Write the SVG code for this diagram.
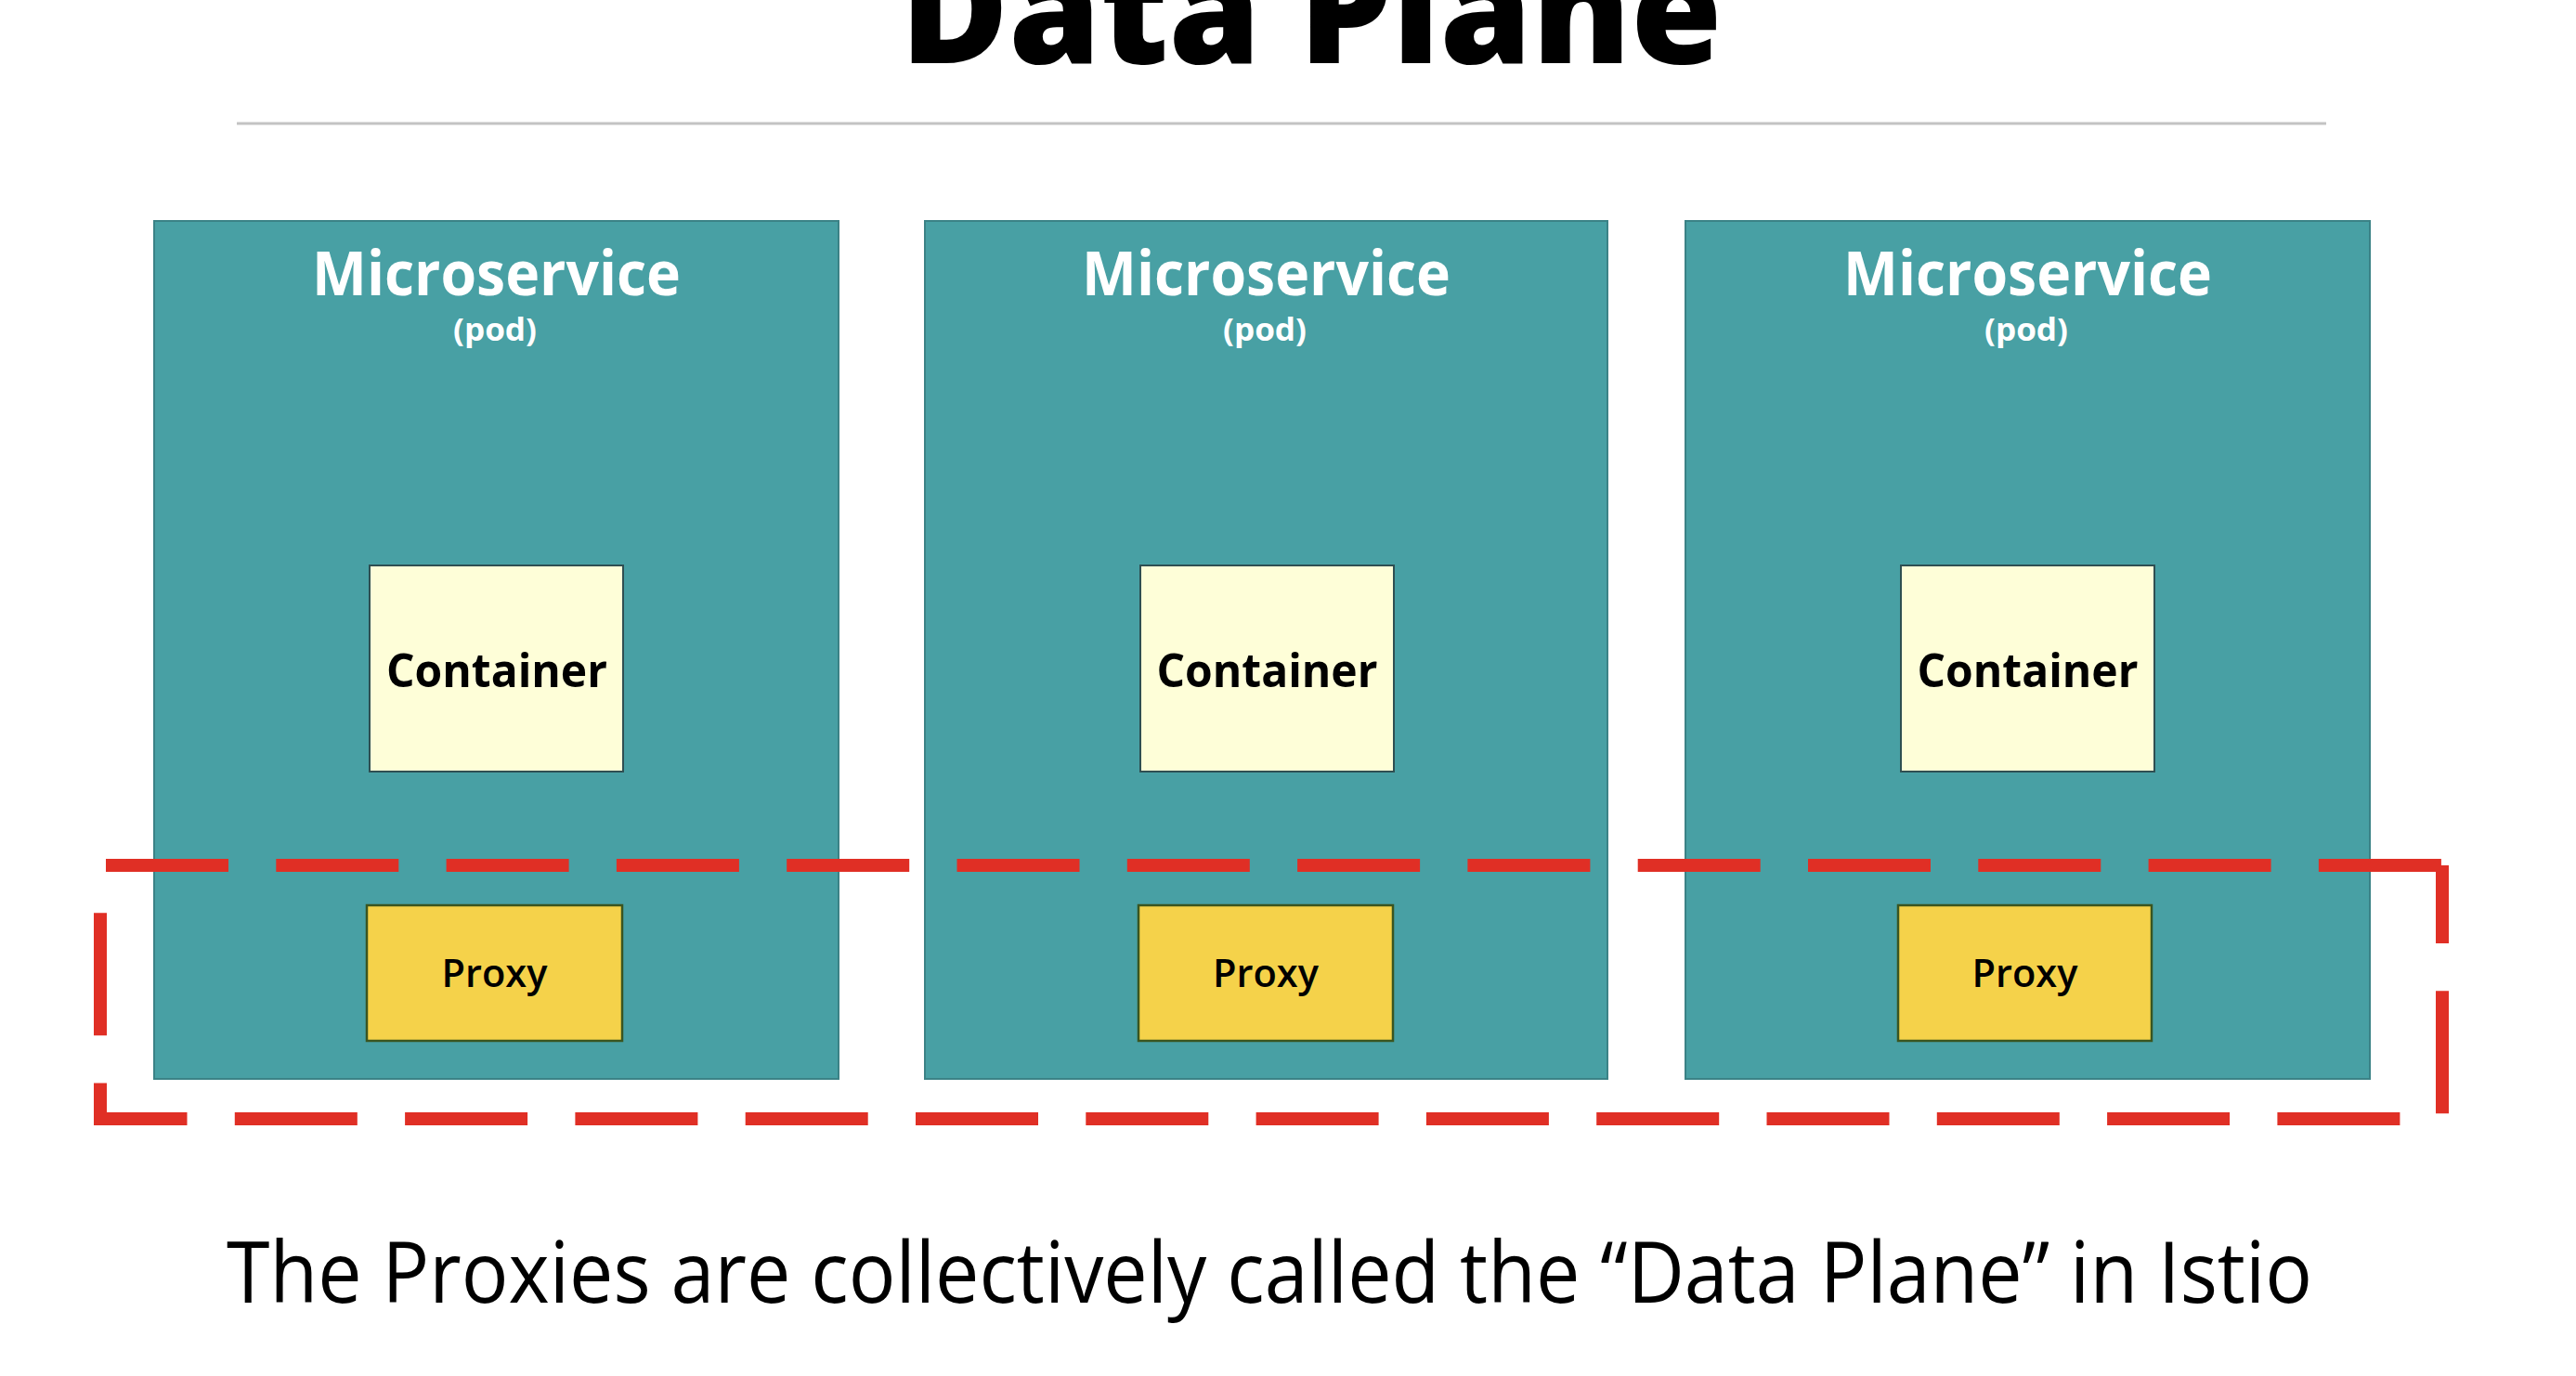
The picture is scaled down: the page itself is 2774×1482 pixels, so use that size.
<svg xmlns="http://www.w3.org/2000/svg" width="2774" height="1482" viewBox="0 0 2774 1482">
  <style>
    .pod { fill: #48a0a4; stroke: #3b8286; stroke-width: 2; }
    .container { fill: #fefed8; stroke: #2f4f52; stroke-width: 2; }
    .proxy { fill: #f5d24a; stroke: #3a5520; stroke-width: 2.5; }
    .ms { font-family: "Open Sans", "Liberation Sans", sans-serif; font-weight: 700; fill: #ffffff; text-anchor: middle; }
    .lbl { font-family: "Open Sans", "Liberation Sans", sans-serif; fill: #000000; text-anchor: middle; }
    .dash { fill: none; stroke: #e02f25; stroke-width: 14; stroke-dasharray: 132 51.3; }
  </style>
  <rect width="2774" height="1482" fill="#ffffff"/>

  <g id="title">
    <text x="1412" y="68" class="lbl" font-size="160" font-weight="800" textLength="885" lengthAdjust="spacingAndGlyphs">Data Plane</text>
    <line x1="255" y1="133" x2="2505" y2="133" stroke="#c3c3c3" stroke-width="3"/>
  </g>

  <g id="pod1">
    <rect class="pod" x="166" y="238" width="737" height="924"/>
    <text class="ms" x="534.5" y="318" font-size="67" textLength="397" lengthAdjust="spacingAndGlyphs">Microservice</text>
    <text class="ms" x="533" y="367" font-size="34" textLength="90" lengthAdjust="spacingAndGlyphs">(pod)</text>
  </g>
  <g id="container1">
    <rect class="container" x="398" y="609" width="273" height="222"/>
    <text class="lbl" x="535" y="740" font-size="50" font-weight="700" textLength="238" lengthAdjust="spacingAndGlyphs">Container</text>
  </g>
  <g id="pod2">
    <rect class="pod" x="996" y="238" width="735" height="924"/>
    <text class="ms" x="1363.5" y="318" font-size="67" textLength="397" lengthAdjust="spacingAndGlyphs">Microservice</text>
    <text class="ms" x="1362" y="367" font-size="34" textLength="90" lengthAdjust="spacingAndGlyphs">(pod)</text>
  </g>
  <g id="container2">
    <rect class="container" x="1228" y="609" width="273" height="222"/>
    <text class="lbl" x="1364.5" y="740" font-size="50" font-weight="700" textLength="238" lengthAdjust="spacingAndGlyphs">Container</text>
  </g>
  <g id="pod3">
    <rect class="pod" x="1815" y="238" width="737" height="924"/>
    <text class="ms" x="2183.5" y="318" font-size="67" textLength="397" lengthAdjust="spacingAndGlyphs">Microservice</text>
    <text class="ms" x="2182" y="367" font-size="34" textLength="90" lengthAdjust="spacingAndGlyphs">(pod)</text>
  </g>
  <g id="container3">
    <rect class="container" x="2047" y="609" width="273" height="222"/>
    <text class="lbl" x="2183.5" y="740" font-size="50" font-weight="700" textLength="238" lengthAdjust="spacingAndGlyphs">Container</text>
  </g>

  <g id="data-plane-boundary">
    <path class="dash" d="M 114 932 H 2630"/>
    <path class="dash" stroke-dashoffset="48" d="M 2630 932 V 1205 H 108 V 978"/>
  </g>

  <g id="proxy1">
    <rect class="proxy" x="395" y="975" width="275" height="146"/>
    <text class="lbl" x="532.5" y="1063" font-size="41" font-weight="600" textLength="114" lengthAdjust="spacingAndGlyphs">Proxy</text>
  </g>
  <g id="proxy2">
    <rect class="proxy" x="1226" y="975" width="274" height="146"/>
    <text class="lbl" x="1363" y="1063" font-size="41" font-weight="600" textLength="114" lengthAdjust="spacingAndGlyphs">Proxy</text>
  </g>
  <g id="proxy3">
    <rect class="proxy" x="2044" y="975" width="273" height="146"/>
    <text class="lbl" x="2180.5" y="1063" font-size="41" font-weight="600" textLength="114" lengthAdjust="spacingAndGlyphs">Proxy</text>
  </g>

  <g id="connectors"></g>

  <g id="caption">
    <text x="244" y="1403" font-family="'Open Sans', 'Liberation Sans', sans-serif" font-size="92" font-weight="400" fill="#000000" textLength="2246" lengthAdjust="spacingAndGlyphs">The Proxies are collectively called the “Data Plane” in Istio</text>
  </g>
</svg>
